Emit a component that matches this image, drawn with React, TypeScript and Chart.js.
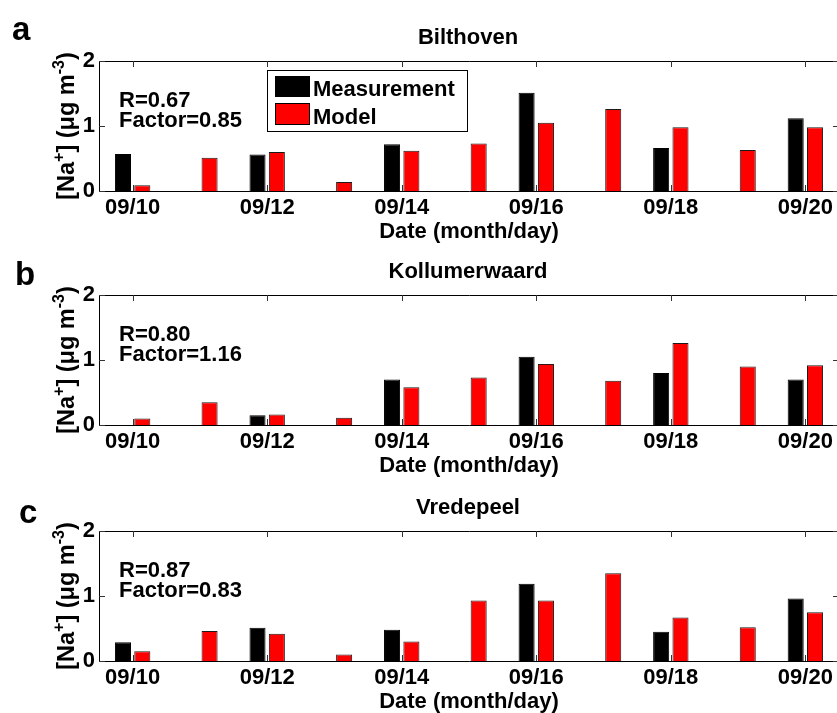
import React, { useEffect, useRef } from 'react';
import { Chart, registerables } from 'chart.js';

Chart.register(...registerables);

// ---------- data ----------
const dates = ['09/10', '09/11', '09/12', '09/13', '09/14', '09/15', '09/16', '09/17', '09/18', '09/19', '09/20'];
const yTicks = [0, 1, 2];
const seriesNames = ['Measurement', 'Model'];

const bilthovenMeasurement = [0.57, null, 0.56, null, 0.72, null, 1.51, null, 0.66, null, 1.12];
const bilthovenModel = [0.09, 0.51, 0.6, 0.14, 0.62, 0.73, 1.05, 1.26, 0.98, 0.63, 0.98];

const kollumerwaardMeasurement = [null, null, 0.15, null, 0.7, null, 1.05, null, 0.8, null, 0.7];
const kollumerwaardModel = [0.1, 0.35, 0.16, 0.11, 0.58, 0.73, 0.94, 0.68, 1.26, 0.9, 0.92];

const vredepeelMeasurement = [0.29, null, 0.51, null, 0.48, null, 1.19, null, 0.45, null, 0.96];
const vredepeelModel = [0.15, 0.46, 0.42, 0.1, 0.3, 0.93, 0.93, 1.35, 0.67, 0.52, 0.75];

const siteNames = ['Bilthoven', 'Kollumerwaard', 'Vredepeel'];
const panelLetters = ['a', 'b', 'c'];
const rValues = ['0.67', '0.80', '0.87'];
const factorValues = ['0.85', '1.16', '0.83'];

const FONT = "'Liberation Sans', Arial, Helvetica, sans-serif";
const CANVAS_W = 839;
const CANVAS_H = 245;
const PLOT_TOP = 61;
const PLOT_H = 130;

type PanelProps = {
  top: number;
  letter: string;
  letterX: number;
  letterBaseline: number;
  title: string;
  measurement: (number | null)[];
  model: (number | null)[];
  r: string;
  factor: string;
  showLegend: boolean;
};

function Panel(props: PanelProps) {
  const ref = useRef<HTMLCanvasElement | null>(null);

  useEffect(() => {
    const canvas = ref.current;
    if (!canvas) return;

    const decor = {
      id: 'decor',
      afterDraw(chart: any) {
        const ctx = chart.ctx as CanvasRenderingContext2D;
        const { left, right, top, bottom } = chart.chartArea;
        const xs = chart.scales.x;
        const ys = chart.scales.y;
        ctx.save();
        // box
        ctx.strokeStyle = '#000';
        ctx.lineWidth = 1;
        ctx.beginPath();
        ctx.moveTo(Math.round(left) + 0.5, Math.round(bottom) + 0.5);
        ctx.lineTo(Math.round(left) + 0.5, Math.round(top) + 0.5);
        ctx.lineTo(right + 2, Math.round(top) + 0.5);
        ctx.moveTo(Math.round(left) + 0.5, Math.round(bottom) + 0.5);
        ctx.lineTo(right + 2, Math.round(bottom) + 0.5);
        ctx.stroke();
        // inner ticks
        ctx.strokeStyle = '#333';
        ctx.beginPath();
        yTicks.forEach((v) => {
          const y = Math.round(ys.getPixelForValue(v)) + 0.5;
          ctx.moveTo(left, y);
          ctx.lineTo(left + 6, y);
          ctx.moveTo(right - 6, y);
          ctx.lineTo(right, y);
        });
        dates.forEach((d, i) => {
          if (i % 2 !== 0) return;
          const x = Math.round(xs.getPixelForValue(i)) + 0.5;
          ctx.moveTo(x, top);
          ctx.lineTo(x, top + 6);
          ctx.moveTo(x, bottom);
          ctx.lineTo(x, bottom - 6);
        });
        ctx.stroke();

        ctx.fillStyle = '#000';
        // panel letter
        ctx.font = `bold 33px ${FONT}`;
        ctx.textAlign = 'left';
        ctx.textBaseline = 'alphabetic';
        ctx.fillText(props.letter, props.letterX, props.letterBaseline);

        // title
        ctx.font = `bold 22px ${FONT}`;
        ctx.textAlign = 'center';
        ctx.fillText(props.title, (left + right) / 2 - 1, top - 17);

        // R and Factor
        ctx.textAlign = 'left';
        ctx.font = `bold 22px ${FONT}`;
        ctx.fillText('R=' + props.r, 119, top + 45.5);
        ctx.fillText('Factor=' + props.factor, 119, top + 65.5);

        // y-axis title with superscripts (rotated)
        const pieces = [
          { t: '[Na', sup: false },
          { t: '+', sup: true },
          { t: '] (\u03bcg m', sup: false },
          { t: '-3', sup: true },
          { t: ')', sup: false },
        ];
        const mainFont = `bold 23.5px ${FONT}`;
        const supFont = `bold 16px ${FONT}`;
        let total = 0;
        const widths = pieces.map((p) => {
          ctx.font = p.sup ? supFont : mainFont;
          const w = ctx.measureText(p.t).width;
          total += w;
          return w;
        });
        ctx.save();
        ctx.translate(74, (top + bottom) / 2);
        ctx.rotate(-Math.PI / 2);
        ctx.textAlign = 'left';
        let cx = -total / 2;
        pieces.forEach((p, i) => {
          ctx.font = p.sup ? supFont : mainFont;
          ctx.fillText(p.t, cx, p.sup ? -10 : 0);
          cx += widths[i];
        });
        ctx.restore();

        // legend
        if (props.showLegend) {
          ctx.fillStyle = '#fff';
          ctx.fillRect(267.5, 70.5, 200, 61);
          ctx.strokeStyle = '#000';
          ctx.lineWidth = 1;
          ctx.strokeRect(267.5, 70.5, 200, 61);
          ctx.fillStyle = '#000';
          ctx.fillRect(275, 76, 35, 21);
          ctx.fillStyle = '#ff0000';
          ctx.fillRect(275, 103, 35, 22);
          ctx.strokeStyle = '#000';
          ctx.strokeRect(275.5, 76.5, 34, 20);
          ctx.strokeRect(275.5, 103.5, 34, 21);
          ctx.fillStyle = '#000';
          ctx.font = `bold 22px ${FONT}`;
          ctx.textAlign = 'left';
          ctx.fillText(seriesNames[0], 313, 96);
          ctx.fillText(seriesNames[1], 313, 124);
        }
        ctx.restore();
      },
    };

    const tickFont = { family: FONT, size: 22, weight: 'bold' as const };

    const chart = new Chart(canvas, {
      type: 'bar',
      data: {
        labels: dates,
        datasets: [
          {
            label: seriesNames[0],
            data: props.measurement,
            backgroundColor: '#000000',
            borderColor: '#000000',
            borderWidth: 1,
            categoryPercentage: 0.575,
            barPercentage: 0.83,
          },
          {
            label: seriesNames[1],
            data: props.model,
            backgroundColor: '#ff0000',
            borderColor: '#1a1a1a',
            borderWidth: 1,
            categoryPercentage: 0.575,
            barPercentage: 0.83,
          },
        ],
      },
      options: {
        animation: false,
        responsive: false,
        maintainAspectRatio: false,
        devicePixelRatio: 1,
        layout: { padding: { top: PLOT_TOP, left: 0, right: 0, bottom: 0 } },
        plugins: {
          legend: { display: false },
          title: { display: false },
          tooltip: { enabled: false },
        },
        scales: {
          x: {
            grid: { display: false, drawTicks: false },
            border: { display: false },
            ticks: {
              autoSkip: false,
              maxRotation: 0,
              minRotation: 0,
              padding: 4,
              color: '#000',
              font: tickFont,
              callback: (_v: any, i: number) => (i % 2 === 0 ? dates[i] : ''),
            },
            title: {
              display: true,
              text: 'Date (month/day)',
              color: '#000',
              font: { ...tickFont, lineHeight: 1.2 },
              padding: { top: 0, bottom: 0 },
            },
            afterFit: (s: any) => {
              s.height = CANVAS_H - PLOT_TOP - PLOT_H;
            },
          },
          y: {
            min: 0,
            max: 2,
            grid: { display: false, drawTicks: false },
            border: { display: false },
            ticks: {
              stepSize: 1,
              padding: 4,
              color: '#000',
              font: tickFont,
            },
            afterBuildTicks: (s: any) => {
              s.ticks = yTicks.map((v) => ({ value: v }));
            },
            afterFit: (s: any) => {
              s.width = 99;
            },
          },
        },
      },
      plugins: [decor],
    });

    return () => chart.destroy();
  }, [props]);

  return (
    <div style={{ position: 'absolute', left: 0, top: props.top, width: CANVAS_W, height: CANVAS_H }}>
      <canvas ref={ref} width={CANVAS_W} height={CANVAS_H} style={{ width: CANVAS_W, height: CANVAS_H, display: 'block' }} />
    </div>
  );
}

const panels: PanelProps[] = [
  {
    top: 0,
    letter: panelLetters[0],
    letterX: 12,
    letterBaseline: 40,
    title: siteNames[0],
    measurement: bilthovenMeasurement,
    model: bilthovenModel,
    r: rValues[0],
    factor: factorValues[0],
    showLegend: true,
  },
  {
    top: 234,
    letter: panelLetters[1],
    letterX: 15,
    letterBaseline: 51,
    title: siteNames[1],
    measurement: kollumerwaardMeasurement,
    model: kollumerwaardModel,
    r: rValues[1],
    factor: factorValues[1],
    showLegend: false,
  },
  {
    top: 470,
    letter: panelLetters[2],
    letterX: 19,
    letterBaseline: 53,
    title: siteNames[2],
    measurement: vredepeelMeasurement,
    model: vredepeelModel,
    r: rValues[2],
    factor: factorValues[2],
    showLegend: false,
  },
];

export default function App() {
  return (
    <div
      style={{
        position: 'fixed',
        left: 0,
        top: 0,
        width: 837,
        height: 713,
        overflow: 'hidden',
        background: '#fff',
      }}
    >
      {panels.map((p) => (
        <Panel key={p.letter} {...p} />
      ))}
    </div>
  );
}
